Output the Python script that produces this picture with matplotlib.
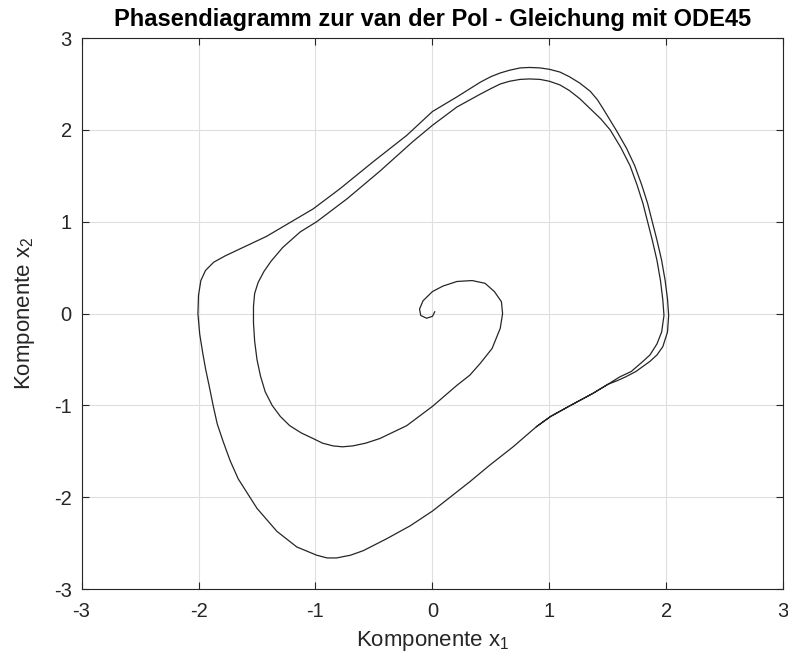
import matplotlib
matplotlib.use("Agg")
import matplotlib.pyplot as plt

# Trajektorie der van der Pol - Gleichung
# (Start am Ursprung, zwei Umläufe nach außen bis zum Grenzzyklus)
x1_werte = [
    # Haken am Ursprung und erste kleine Schleife
    0.02, 0.00, -0.05, -0.10, -0.11, -0.08, 0.00, 0.09, 0.21, 0.34, 0.45, 0.53, 0.59, 0.60,
    0.58, 0.51, 0.41, 0.32, 0.21, 0.00, -0.22, -0.45, -0.57, -0.68, -0.77, -0.85, -0.94,
    -1.02, -1.12, -1.22, -1.30, -1.37, -1.43, -1.47, -1.50, -1.52, -1.53, -1.53,
    # innerer Bogen nach oben
    -1.52, -1.49, -1.44, -1.38, -1.28, -1.13, -0.99, -0.73, -0.45, -0.17, 0.00, 0.21, 0.41,
    0.50, 0.58, 0.66, 0.75, 0.83, 0.92, 1.00, 1.09, 1.17, 1.26, 1.35, 1.44, 1.52, 1.61,
    1.69, 1.75, 1.80, 1.84, 1.88, 1.92, 1.95, 1.97, 1.98, 1.96, 1.92, 1.86, 1.80, 1.70, 1.60,
    # unterer Bogen (gemeinsam mit Grenzzyklus)
    1.50, 1.37, 1.18, 1.01, 0.89, 0.69, 0.49, 0.32, 0.21, 0.00, -0.19, -0.39, -0.59, -0.70,
    -0.82, -0.90, -0.99, -1.16, -1.33, -1.50, -1.66, -1.73, -1.79, -1.84, -1.875, -1.91,
    -1.94, -1.965, -1.99, -2.005, -2.00, -1.98, -1.94, -1.87, -1.77, -1.62, -1.42, -1.22,
    -1.02, -0.79, -0.51, -0.22, 0.00, 0.21, 0.41, 0.50, 0.58, 0.66, 0.75, 0.83, 0.92, 1.00,
    1.09, 1.17, 1.26, 1.35, 1.41, 1.46, 1.57, 1.66, 1.73, 1.79, 1.84, 1.88, 1.92, 1.96,
    1.99, 2.01, 2.02, 2.01, 1.97, 1.92, 1.86, 1.74, 1.65, 1.58, 1.50, 1.37, 1.18, 1.01, 0.89,
]
x2_werte = [
    0.02, -0.03, -0.05, -0.02, 0.05, 0.14, 0.24, 0.30, 0.35, 0.36, 0.33, 0.24, 0.13, 0.00,
    -0.16, -0.38, -0.54, -0.67, -0.78, -1.01, -1.22, -1.36, -1.41, -1.44, -1.45, -1.44, -1.41,
    -1.36, -1.30, -1.22, -1.12, -1.00, -0.85, -0.68, -0.50, -0.30, -0.10, 0.08,
    0.22, 0.34, 0.46, 0.57, 0.72, 0.89, 1.00, 1.25, 1.55, 1.87, 2.05, 2.25, 2.39,
    2.45, 2.50, 2.53, 2.55, 2.555, 2.55, 2.53, 2.49, 2.43, 2.34, 2.23, 2.12, 2.00, 1.81,
    1.61, 1.40, 1.20, 1.00, 0.80, 0.58, 0.36, 0.15, -0.02, -0.20, -0.33, -0.45, -0.52, -0.63, -0.69,
    -0.77, -0.87, -1.00, -1.12, -1.23, -1.45, -1.65, -1.83, -1.94, -2.15, -2.31, -2.45, -2.58, -2.63,
    -2.66, -2.66, -2.63, -2.54, -2.37, -2.12, -1.80, -1.60, -1.39, -1.20, -1.00, -0.78,
    -0.60, -0.42, -0.22, 0.00, 0.20, 0.36, 0.47, 0.56, 0.63, 0.72, 0.84, 0.99,
    1.14, 1.36, 1.65, 1.94, 2.20, 2.36, 2.52, 2.58, 2.62, 2.65, 2.675, 2.68, 2.675, 2.66,
    2.63, 2.58, 2.51, 2.42, 2.33, 2.23, 2.00, 1.80, 1.61, 1.40, 1.20, 1.00, 0.80, 0.58,
    0.36, 0.16, -0.02, -0.20, -0.36, -0.45, -0.52, -0.63, -0.69, -0.73, -0.77, -0.87, -1.00,
    -1.12, -1.23,
]

achsen_ticks = [-3, -2, -1, 0, 1, 2, 3]

plt.rcParams["font.family"] = ["Liberation Sans", "DejaVu Sans"]
plt.rcParams["mathtext.default"] = "regular"
plt.rcParams["axes.unicode_minus"] = False

fig = plt.figure(figsize=(7.88, 6.62), dpi=100)
ax = fig.add_axes([0.1035, 0.110, 0.8905, 0.8325])

ax.plot(x1_werte, x2_werte, color="#262626", linewidth=0.9)

ax.set_xlim(-3, 3)
ax.set_ylim(-3, 3)
ax.set_xticks(achsen_ticks)
ax.set_yticks(achsen_ticks)
ax.grid(True, color="#dfdfdf", linewidth=0.8)
ax.set_axisbelow(True)
ax.tick_params(direction="in", top=True, right=True, length=5, width=0.8,
               labelsize=14.5, colors="#262626")
ax.tick_params(axis="x", pad=9)
ax.tick_params(axis="y", pad=7)
for spine in ax.spines.values():
    spine.set_color("#262626")
    spine.set_linewidth(0.8)

ax.set_xlabel("Komponente x$_1$", fontsize=16, color="#262626", labelpad=6)
ax.set_ylabel("Komponente x$_2$", fontsize=16, color="#262626", labelpad=12)
ax.set_title("Phasendiagramm zur van der Pol - Gleichung mit ODE45",
             fontsize=17, fontweight="bold", pad=9)

fig.savefig("out.png", dpi=100)
